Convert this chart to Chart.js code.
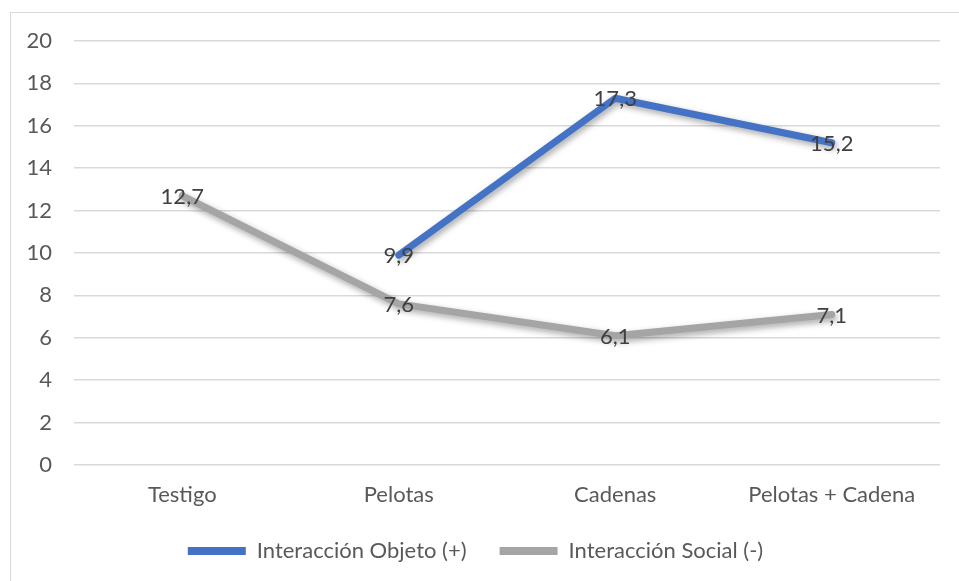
<!DOCTYPE html>
<html>
<head>
<meta charset="utf-8">
<script src="https://cdn.jsdelivr.net/npm/chart.js@4.4.1/dist/chart.umd.min.js"></script>
<style>
  html, body { margin: 0; padding: 0; background: #fff; overflow: hidden; }
  #frame {
    position: absolute; left: 10px; top: 12px;
    width: 960px; height: 580px;
    border: 1.5px solid #d9d9d9;
  }
  #wrap { position: absolute; left: 0; top: 0; width: 948px; height: 568px; }
</style>
</head>
<body>
<div id="frame"><div id="wrap"><canvas id="chart"></canvas></div></div>
<script>
// Данные графика
const categories = ["Testigo", "Pelotas", "Cadenas", "Pelotas + Cadena"];
const objetoValues = [null, 9.9, 17.3, 15.2];
const socialValues = [12.7, 7.6, 6.1, 7.1];
const seriesNames = ["Interacción Objeto (+)", "Interacción Social (-)"];
const yTicks = [0, 2, 4, 6, 8, 10, 12, 14, 16, 18, 20];

const FONT = "Lato, 'Open Sans', sans-serif";
const FONT_SIZE = 22;

// Тень под линиями, как в Excel
const shadowPlugin = {
  id: "lineShadow",
  beforeDatasetDraw(chart) {
    const ctx = chart.ctx;
    ctx.save();
    ctx.shadowColor = "rgba(0, 0, 0, 0.35)";
    ctx.shadowBlur = 6;
    ctx.shadowOffsetX = 2;
    ctx.shadowOffsetY = 3;
  },
  afterDatasetDraw(chart) {
    chart.ctx.restore();
  },
};

// Подписи значений по центру точек
const labelPlugin = {
  id: "valueLabels",
  afterDatasetsDraw(chart) {
    const ctx = chart.ctx;
    ctx.save();
    ctx.font = `${FONT_SIZE}px ${FONT}`;
    ctx.fillStyle = "#404040";
    ctx.textAlign = "center";
    ctx.textBaseline = "middle";
    chart.data.datasets.forEach((ds, i) => {
      const meta = chart.getDatasetMeta(i);
      meta.data.forEach((pt, j) => {
        const v = ds.data[j];
        if (v === null || v === undefined) return;
        ctx.fillText(v.toFixed(1).replace(".", ","), pt.x, pt.y + 1);
      });
    });
    ctx.restore();
  },
};

new Chart(document.getElementById("chart"), {
  type: "line",
  data: {
    labels: categories,
    datasets: [
      {
        label: seriesNames[0],
        data: objetoValues,
        borderColor: "#4472C4",
        backgroundColor: "#4472C4",
        borderWidth: 7,
        borderCapStyle: "round",
        borderJoinStyle: "round",
        pointRadius: 0,
        tension: 0,
      },
      {
        label: seriesNames[1],
        data: socialValues,
        borderColor: "#A5A5A5",
        backgroundColor: "#A5A5A5",
        borderWidth: 7,
        borderCapStyle: "round",
        borderJoinStyle: "round",
        pointRadius: 0,
        tension: 0,
      },
    ],
  },
  options: {
    responsive: true,
    maintainAspectRatio: false,
    animation: false,
    layout: {
      padding: { left: 0, right: 19, top: 28, bottom: 9 },
    },
    scales: {
      x: {
        offset: true,
        grid: { display: false, drawTicks: false },
        border: { display: false },
        ticks: {
          color: "#595959",
          font: { family: FONT, size: FONT_SIZE },
          padding: 17,
        },
        afterFit(scale) { scale.height = 42; },
      },
      y: {
        min: 0,
        max: 20,
        afterBuildTicks(scale) {
          scale.ticks = yTicks.map((v) => ({ value: v }));
        },
        grid: { color: "#d9d9d9", lineWidth: 1.5, drawTicks: false },
        border: { display: false },
        ticks: {
          color: "#595959",
          font: { family: FONT, size: FONT_SIZE },
          padding: 22,
        },
        afterFit(scale) {
          scale.width = 63;
          scale.paddingTop = 0;
          scale.paddingBottom = 0;
        },
      },
    },
    plugins: {
      legend: {
        position: "bottom",
        labels: {
          color: "#595959",
          font: { family: FONT, size: FONT_SIZE },
          boxWidth: 58,
          boxHeight: 8,
          useBorderRadius: true,
          borderRadius: 4,
          padding: 33,
          generateLabels(chart) {
            return chart.data.datasets.map((ds, i) => ({
              text: ds.label,
              fillStyle: ds.borderColor,
              strokeStyle: ds.borderColor,
              lineWidth: 0,
              fontColor: "#595959",
              datasetIndex: i,
              hidden: false,
            }));
          },
        },
      },
      tooltip: { enabled: false },
    },
  },
  plugins: [shadowPlugin, labelPlugin],
});
</script>
</body>
</html>
